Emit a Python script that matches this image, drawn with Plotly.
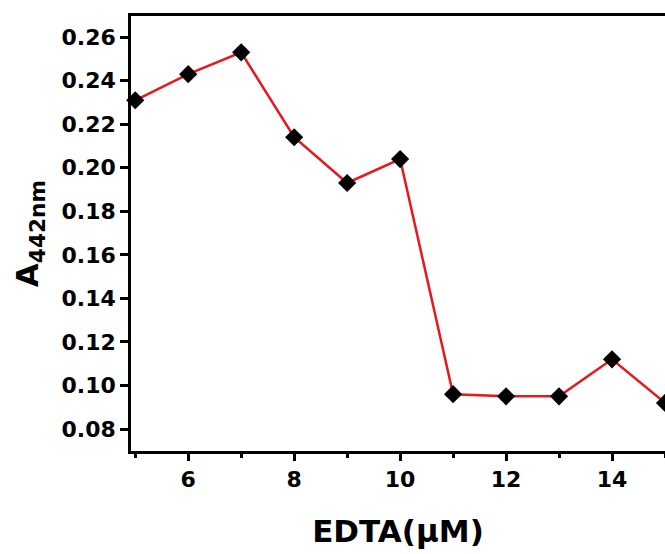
import plotly.graph_objects as go

edta = [5, 6, 7, 8, 9, 10, 11, 12, 13, 14, 15]
absorbance = [0.231, 0.243, 0.253, 0.214, 0.193, 0.204, 0.096, 0.095, 0.095, 0.112, 0.092]
y_ticks = [0.08, 0.10, 0.12, 0.14, 0.16, 0.18, 0.20, 0.22, 0.24, 0.26]
y_tick_labels = ["0.08", "0.10", "0.12", "0.14", "0.16", "0.18", "0.20", "0.22", "0.24", "0.26"]
x_ticks = [6, 8, 10, 12, 14]
x_tick_labels = ["6", "8", "10", "12", "14"]

FONT = "DejaVu Sans"

fig = go.Figure()
fig.add_trace(go.Scatter(
    x=edta, y=absorbance, mode="lines+markers",
    line=dict(color="#e8171b", width=2.5),
    marker=dict(symbol="diamond", size=14, color="black"),
    cliponaxis=False,
    showlegend=False,
))

fig.update_layout(
    width=665, height=554,
    margin=dict(l=131, r=0, t=16, b=103),
    paper_bgcolor="white", plot_bgcolor="white",
    font=dict(family=FONT, color="black"),
)
fig.update_xaxes(
    range=[4.92, 15.0],
    tickmode="array", tickvals=x_ticks, ticktext=x_tick_labels,
    ticks="outside", ticklen=7, tickwidth=2.5, tickcolor="black",
    minor=dict(ticks="outside", ticklen=4, tickwidth=2.5, tickcolor="black", dtick=1, tick0=5, showgrid=False),
    showline=True, linewidth=2.5, linecolor="black", mirror=True,
    showgrid=False, zeroline=False,
    tickfont=dict(family=FONT, size=22, color="black", weight="bold"),
    title=dict(text="<b>EDTA(μM)</b>", font=dict(family=FONT, size=31, color="black"), standoff=30),
)
fig.update_yaxes(
    range=[0.0699, 0.2697],
    tickmode="array", tickvals=y_ticks, ticktext=y_tick_labels,
    ticks="outside", ticklen=8, tickwidth=2.5, tickcolor="black",
    showline=True, linewidth=2.5, linecolor="black", mirror=False,
    showgrid=False, zeroline=False,
    tickfont=dict(family=FONT, size=22, color="black", weight="bold"),
    title=dict(text="<b>A<sub>442nm</sub></b>", font=dict(family=FONT, size=31, color="black"), standoff=14),
)

fig.write_html("out.html")
